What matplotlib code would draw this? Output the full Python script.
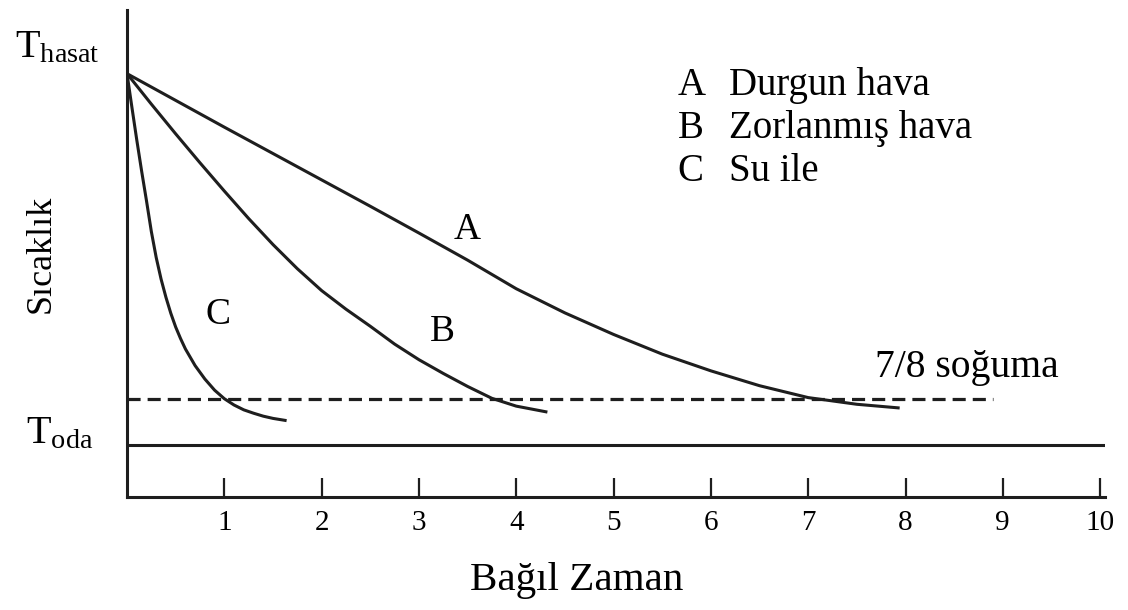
import matplotlib
matplotlib.use("Agg")
import matplotlib.pyplot as plt

plt.rcParams['font.family'] = ['Liberation Serif', 'DejaVu Serif']
plt.rcParams['mathtext.fontset'] = 'custom'
plt.rcParams['mathtext.rm'] = 'Liberation Serif'

# sıcaklık oranı: 1 = T_hasat, 0 = T_oda
zaman_a = [0, 0.5, 1.0, 1.5, 2.0, 2.5, 3.0, 3.5, 4.0, 4.5, 5.0, 5.5, 6.0, 6.5, 7.0, 7.5, 7.94]
sicaklik_a = [1, 0.928, 0.856, 0.785, 0.714, 0.643, 0.571, 0.498, 0.421, 0.356,
              0.298, 0.245, 0.2, 0.16, 0.128, 0.11, 0.1]

zaman_b = [0, 0.25, 0.5, 0.75, 1.0, 1.25, 1.5, 1.75, 2.0, 2.25, 2.5, 2.75,
           3.0, 3.25, 3.5, 3.75, 4.0, 4.32]
sicaklik_b = [1, 0.918, 0.838, 0.76, 0.684, 0.61, 0.54, 0.475, 0.416, 0.366,
              0.32, 0.272, 0.23, 0.193, 0.158, 0.126, 0.105, 0.089]

zaman_c = [0, 0.05, 0.1, 0.15, 0.2, 0.25, 0.3, 0.35, 0.4, 0.45, 0.5, 0.55, 0.6,
           0.7, 0.8, 0.9, 1.0, 1.1, 1.2, 1.3, 1.4, 1.5, 1.64]
sicaklik_c = [1, 0.91, 0.822, 0.738, 0.658, 0.575, 0.505, 0.447, 0.398, 0.355,
              0.318, 0.287, 0.259, 0.214, 0.178, 0.148, 0.125, 0.108, 0.095,
              0.086, 0.078, 0.072, 0.066]

sogutma_78 = 1 - 7 / 8
sogutma_bitis = 8.9
xticks = [1, 2, 3, 4, 5, 6, 7, 8, 9, 10]

renk = '#1e1e1e'

fig = plt.figure(figsize=(11.28, 6.10), dpi=100)
ax = fig.add_axes([0.1126, 0.185, 0.8670, 0.799])

for zx, zy in [(zaman_a, sicaklik_a), (zaman_b, sicaklik_b), (zaman_c, sicaklik_c)]:
    ax.plot(zx, zy, color=renk, lw=2.2, solid_capstyle='butt', solid_joinstyle='round')

ax.plot([0, sogutma_bitis], [sogutma_78, sogutma_78], color=renk, lw=2.3,
        linestyle=(0, (4.1, 2.2)))
ax.axhline(0, color=renk, lw=2.2)

ax.set_xlim(0, 10.05)
ax.set_ylim(-0.14, 1.172)

for s in ['top', 'right']:
    ax.spines[s].set_visible(False)
for s in ['left', 'bottom']:
    ax.spines[s].set_linewidth(2.2)
    ax.spines[s].set_color(renk)

ax.set_xticks(xticks)
ax.set_xticklabels([str(t) for t in xticks], fontsize=21)
ax.set_yticks([])
ax.tick_params(axis='x', direction='in', length=14, width=1.6, color=renk, pad=9)

ax.set_xlabel('Bağıl Zaman', fontsize=29.5, labelpad=19, x=0.46)
ax.set_ylabel('Sıcaklık', fontsize=26, labelpad=50)

ax.text(-0.28, 1.045, r'$\mathrm{T_{hasat}}$', fontsize=29, ha='right', va='baseline')
ax.text(-0.35, 0.005, r'$\mathrm{T_{oda}}$', fontsize=29, ha='right', va='baseline')

# eğri etiketleri
ax.text(3.50, 0.58, 'A', fontsize=27, ha='center', va='center')
ax.text(3.24, 0.305, 'B', fontsize=27, ha='center', va='center')
ax.text(0.94, 0.35, 'C', fontsize=27, ha='center', va='center')
ax.text(7.69, 0.183, '7/8 soğuma', fontsize=28.5, ha='left', va='baseline')

# açıklama
aciklama = [('A', 'Durgun hava'), ('B', 'Zorlanmış hava'), ('C', 'Su ile')]
for i, (harf, ad) in enumerate(aciklama):
    y = 0.943 - i * 0.116
    ax.text(5.66, y, harf, fontsize=28, ha='left', va='baseline')
    ax.text(6.19, y, ad, fontsize=28, ha='left', va='baseline')

fig.savefig('out.png', dpi=100)
